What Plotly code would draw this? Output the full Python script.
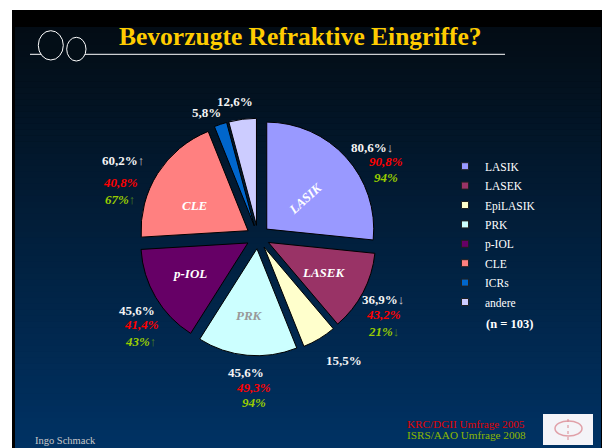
import plotly.graph_objects as go

W, H = 602, 448

# ---------------- data ----------------
categories = ["LASIK", "LASEK", "EpiLASIK", "PRK", "p-IOL", "CLE", "ICRs", "andere"]
share_pct = [80.6, 36.9, 15.5, 45.6, 45.6, 60.2, 5.8, 12.6]          # white labels (slice values)
share_trend = ["↓", "↓", "", "", "", "↑", "", ""]
krc_2005 = [90.8, 43.2, None, 49.3, 41.4, 40.8, None, None]          # red
isrs_2008 = [94, 21, None, 94, 43, 67, None, None]                   # green
isrs_trend = ["", "↓", "", "", "↑", "↑", "", ""]
slice_names = ["LASIK", "LASEK", "", "PRK", "p-IOL", "CLE", "", ""]
n_total = 103

colors = ["#9999FF", "#993366", "#FFFFCC", "#CCFFFF", "#660066", "#FF8080", "#0066CC", "#CCCCFF"]
slice_name_colors = ["#FFFFFF", "#FFFFFF", "#FFFFFF", "#999999", "#FFFFFF", "#FFFFFF", "#FFFFFF", "#FFFFFF"]
slice_name_pos = [(305, 198, -42), (324, 272, 0), None, (249, 315, 0), (190, 273, 0), (195, 205, 0), None, None]

# label anchor positions (pixels): white, red, green
label_pos = [
    [(372, 147), (386, 161), (386, 177)],
    [(383, 299), (383, 314), (383, 331)],
    [(343.5, 360), None, None],
    [(246, 372), (253, 387), (254, 402)],
    [(137, 310.5), (141, 324.5), (140, 341)],
    [(123, 160), (120, 183), (119.5, 199)],
    [(206, 112), None, None],
    [(235, 101), None, None],
]

SERIF = "Liberation Serif"


def px(x):
    return x / W


def py(y):
    return 1 - y / H


def fmt(v):
    if v is None:
        return ""
    if isinstance(v, int):
        return f"{v}%"
    return f"{v:.1f}".replace(".", ",") + "%"


# ---------------- background shapes ----------------
shapes = []
shapes.append(dict(type="rect", xref="paper", yref="paper", x0=px(12), x1=px(602),
                   y0=py(448), y1=py(10), fillcolor="#000000", line_width=0, layer="below"))
top, bottom, n = 27, 448, 70
c0 = (3, 12, 20)
c1 = (0, 50, 100)
for i in range(n):
    y0 = top + (bottom - top) * i / n
    y1 = top + (bottom - top) * (i + 1) / n + 0.6
    t = (i + 0.5) / n
    col = tuple(round(c0[k] + (c1[k] - c0[k]) * t) for k in range(3))
    shapes.append(dict(type="rect", xref="paper", yref="paper", x0=px(15), x1=px(601),
                       y0=py(min(y1, bottom)), y1=py(y0),
                       fillcolor="rgb(%d,%d,%d)" % col, line_width=0, layer="below"))

bg_top = "rgb(3,14,23)"
shapes += [
    dict(type="line", xref="paper", yref="paper", x0=px(30), x1=px(45), y0=py(54.3), y1=py(54.3),
         line=dict(color="white", width=1), layer="below"),
    dict(type="line", xref="paper", yref="paper", x0=px(80), x1=px(505), y0=py(54.3), y1=py(54.3),
         line=dict(color="white", width=1), layer="below"),
    dict(type="circle", xref="paper", yref="paper", x0=px(38.3), x1=px(63.3), y0=py(60), y1=py(30.7),
         line=dict(color="white", width=1), fillcolor=bg_top, layer="below"),
    dict(type="circle", xref="paper", yref="paper", x0=px(66.7), x1=px(86), y0=py(61), y1=py(37.3),
         line=dict(color="white", width=1), fillcolor=bg_top, layer="below"),
    # small logo box bottom right
    dict(type="rect", xref="paper", yref="paper", x0=px(543), x1=px(593), y0=py(445), y1=py(414),
         fillcolor="#F4F4F8", line_width=0, layer="below"),
    dict(type="circle", xref="paper", yref="paper", x0=px(555), x1=px(582), y0=py(436), y1=py(421),
         line=dict(color="#E0A0A8", width=1.5), fillcolor="rgba(0,0,0,0)", layer="below"),
    dict(type="line", xref="paper", yref="paper", x0=px(568), x1=px(568), y0=py(440), y1=py(417),
         line=dict(color="#D88890", width=1, dash="dot"), layer="below"),
]

# ---------------- traces ----------------
cx, cy, R, pull = 258, 237, 107, 0.11
half = R * (1 + pull)

fig = go.Figure()
fig.add_trace(go.Pie(
    labels=categories, values=share_pct, sort=False, direction="clockwise", rotation=0,
    marker=dict(colors=colors, line=dict(color="#000000", width=1)),
    pull=[pull] * len(categories), textinfo="none",
    domain=dict(x=[px(cx - half), px(cx + half)], y=[py(cy + half), py(cy - half)]),
    showlegend=False, hoverinfo="skip",
))

for cat, col in zip(categories, colors):
    fig.add_trace(go.Scatter(
        x=[None], y=[None], mode="markers", name=cat, legendgroup=cat,
        marker=dict(symbol="square", size=7, color=col, line=dict(color="#202020", width=1)),
    ))

# ---------------- annotations ----------------
ann = []


def add_text(text, x, y, size, color, xanchor="center", angle=0):
    ann.append(dict(text=text, x=px(x), y=py(y), xref="paper", yref="paper", showarrow=False,
                    xanchor=xanchor, yanchor="middle", textangle=angle,
                    font=dict(family=SERIF, size=size, color=color)))


add_text("<b>Bevorzugte Refraktive Eingriffe?</b>", 300, 37, 25.5, "#FFCC00")

for i, cat in enumerate(categories):
    if slice_name_pos[i] is not None and slice_names[i]:
        x, y, a = slice_name_pos[i]
        add_text("<b><i>" + slice_names[i] + "</i></b>", x, y, 13, slice_name_colors[i], angle=a)

for i, cat in enumerate(categories):
    wpos, rpos, gpos = label_pos[i]
    txt = "<b>" + fmt(share_pct[i]) + "</b>"
    if share_trend[i]:
        txt += '<span style="color:#C8C8C8">' + share_trend[i] + "</span>"
    add_text(txt, wpos[0], wpos[1], 13, "#F4F4F4")
    if krc_2005[i] is not None:
        add_text("<b><i>" + fmt(krc_2005[i]) + "</i></b>", rpos[0], rpos[1], 13, "#FF0000")
    if isrs_2008[i] is not None:
        t = "<b><i>" + fmt(isrs_2008[i]) + "</i></b>"
        if isrs_trend[i]:
            t += '<span style="color:#4E8A1E">' + isrs_trend[i] + "</span>"
        add_text(t, gpos[0], gpos[1], 13, "#99CC00")

add_text(f"<b>(n = {n_total})</b>", 509, 324, 12.5, "white")
add_text("Ingo Schmack", 33, 440, 10.5, "#C8C8C8", xanchor="left")
add_text("KRC/DGII Umfrage 2005", 405, 424, 11.2, "#E00000", xanchor="left")
add_text("ISRS/AAO Umfrage 2008", 405, 435, 11.2, "#8DB800", xanchor="left")

fig.update_layout(
    width=W, height=H, margin=dict(l=0, r=0, t=0, b=0),
    paper_bgcolor="white", plot_bgcolor="rgba(0,0,0,0)",
    xaxis=dict(visible=False, range=[0, 1]), yaxis=dict(visible=False, range=[0, 1]),
    shapes=shapes, annotations=ann, hovermode=False,
    legend=dict(x=px(445), y=py(151.7), xanchor="left", yanchor="top", bgcolor="rgba(0,0,0,0)",
                font=dict(family=SERIF, size=11.5, color="white"), tracegroupgap=0.4,
                itemclick=False, itemdoubleclick=False),
)

fig.write_html("out.html", config={"displayModeBar": False},
               post_script="document.body.style.margin='0';")
